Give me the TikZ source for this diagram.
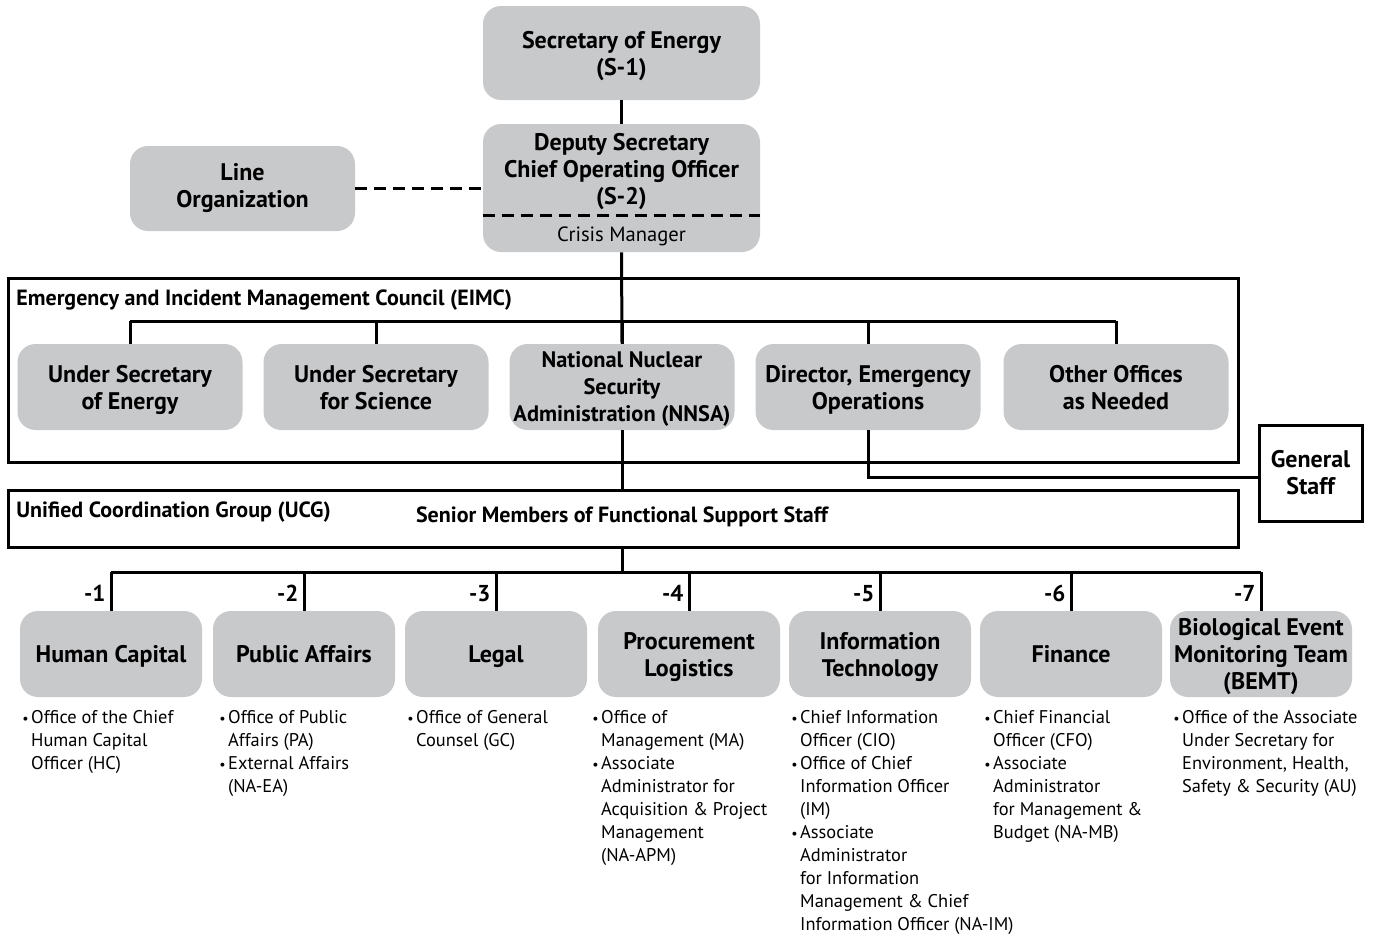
\documentclass[tikz,border=0pt]{standalone}
\usepackage{fontspec}
\setmainfont{PT Sans}
\usetikzlibrary{calc}
\definecolor{boxgray}{RGB}{200,201,203}
\newcommand{\itm}{\makebox[4.4pt][l]{\scriptsize•}}
\newcommand{\ind}{\hspace*{4.4pt}}

\begin{document}
\begin{tikzpicture}[x=.5pt, y=-.5pt,
 box/.style={rectangle, rounded corners=9pt, fill=boxgray, align=center, inner sep=1pt, text depth=0pt, font=\bfseries\fontsize{12}{13.5}\selectfont},
 toprow/.style={box, minimum width=138.5pt},
 midrow/.style={box, minimum width=112.5pt, minimum height=43pt},
 botrow/.style={box, minimum width=91pt, minimum height=43pt},
 stdtext/.style={},
 narrowtext/.style={font=\bfseries\fontsize{11.2}{13.5}\selectfont},
 frame/.style={draw, line width=1.5pt, minimum width=615pt, inner sep=0pt},
 ttl/.style={anchor=west, inner sep=0pt, font=\bfseries\fontsize{11}{13}\selectfont},
 list/.style={anchor=north west, align=left, inner sep=0pt, font=\fontsize{9.2}{11.5}\selectfont},
 link/.style={line width=1.5pt},
 num/.style={left, inner sep=2pt, font=\bfseries\fontsize{11.5}{13.5}\selectfont}]
\useasboundingbox (0,0) rectangle (1375,937);
\node[toprow, minimum height=47pt] (sec) at (621.5,53) {Secretary of Energy\\(S-1)};
\node[toprow, minimum height=64pt] (dep) at (621.5,188) {};
\node[box, inner sep=0pt] (deptxt) at (621.5,168.5) {Deputy Secretary\\Chief Operating Officer\\(S-2)};
\node[inner sep=0pt, font=\fontsize{10.3}{12}\selectfont] (crisis) at (621.5,236) {Crisis Manager};
\draw[link, dashed, dash pattern=on 6pt off 3.5pt] (dep.west |- 0,215) -- (dep.east |- 0,215);
\node[box, text depth=3pt, minimum width=112.5pt, minimum height=42.5pt] (lineorg) at (242.5,188.5) {Line\\Organization};
\draw[link, dashed, dash pattern=on 6pt off 3.5pt] (lineorg.east) -- (dep.west |- lineorg.east);
\draw[link] (sec.south) -- (dep.north);
\node[frame, minimum height=92pt] (eimc) at (623,370) {};
\node[ttl] (eimctxt) at (16,300) {Emergency and Incident Management Council (EIMC)};
\coordinate (bus1) at (622,321);
\foreach \n/\x/\s/\t in {use/130/stdtext/{Under Secretary\\of Energy}, usc/376/stdtext/{Under Secretary\\for Science},
 nnsa/622/narrowtext/{National Nuclear\\Security\\Administration (NNSA)},
 deo/868/stdtext/{Director, Emergency\\Operations}, other/1116/stdtext/{Other Offices\\as Needed}} {
 \node[midrow, \s] (\n) at (\x,387) {\t};
 \draw[link] (\n.north |- bus1) -- (\n.north);
}
\draw[link] (use.north |- bus1) -- (other.north |- bus1);
\draw[link] (dep.south) -- (nnsa.north);
\node[draw, line width=1.5pt, fill=white, minimum width=51.5pt, minimum height=48pt, align=center, font=\bfseries\fontsize{12}{13.5}\selectfont] (gen) at (1310.5,473) {General\\Staff};
\draw[link] (deo.south) |- ($(gen.west)+(0,4)$);
\node[frame, minimum height=28.5pt] (ucg) at (623,518.5) {};
\node[ttl] (ucgtxt) at (16,512) {Unified Coordination Group (UCG)};
\node[ttl, anchor=center] (senior) at (622,517) {Senior Members of Functional Support Staff};
\draw[link] (nnsa.south) -- (ucg.north -| nnsa.south);
\coordinate (bus2) at (622,572);
\draw[link] (ucg.south -| bus2) -- (bus2);
\foreach \n/\x/\t [count=\i] in {hc/111/{Human Capital}, pa/304/{Public Affairs}, lg/496/{Legal},
 pl/689/{Procurement\\Logistics}, it/880/{Information\\Technology}, fin/1071/{Finance},
 bemt/1261/{Biological Event\\Monitoring Team\\(BEMT)}} {
 \node[botrow] (\n) at (\x,654) {\t};
 \draw[link] (\n.north |- bus2) -- node[num, pos=.55] (lab\i) {-\i} (\n.north);
}
\draw[link] (hc.north |- bus2) -- (bemt.north |- bus2);
\node[list] (l1) at (22,710) {\itm Office of the Chief\\\ind Human Capital\\\ind Officer (HC)};
\node[list] (l2) at (219,710) {\itm Office of Public\\\ind Affairs (PA)\\\itm External Affairs\\\ind (NA-EA)};
\node[list] (l3) at (407,710) {\itm Office of General\\\ind Counsel (GC)};
\node[list] (l4) at (592,710) {\itm Office of\\\ind Management (MA)\\\itm Associate\\\ind Administrator for\\\ind Acquisition \& Project\\\ind Management\\\ind (NA-APM)};
\node[list] (l5) at (791,710) {\itm Chief Information\\\ind Officer (CIO)\\\itm Office of Chief\\\ind Information Officer\\\ind (IM)\\\itm Associate\\\ind Administrator\\\ind for Information\\\ind Management \& Chief\\\ind Information Officer (NA-IM)};
\node[list] (l6) at (984,710) {\itm Chief Financial\\\ind Officer (CFO)\\\itm Associate\\\ind Administrator\\\ind for Management \&\\\ind Budget (NA-MB)};
\node[list] (l7) at (1173,710) {\itm Office of the Associate\\\ind Under Secretary for\\\ind Environment, Health,\\\ind Safety \& Security (AU)};
\end{tikzpicture}
\end{document}
